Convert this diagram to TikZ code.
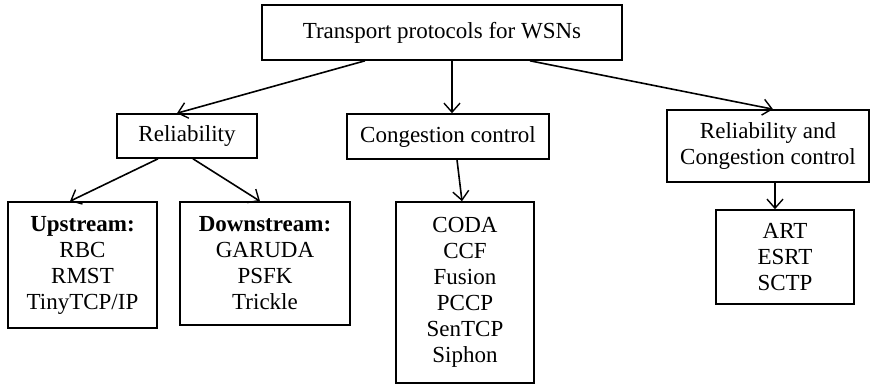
\documentclass[tikz,border=0pt]{standalone}
\usepackage{fontspec}
\setmainfont{Liberation Serif}
\usetikzlibrary{arrows.meta}
\begin{document}
\begin{tikzpicture}[x=1pt,y=-1pt,
  box/.style={draw,line width=1.6pt,inner sep=0pt,align=center,
    font=\fontsize{23}{26}\selectfont},
  conn/.style={line width=1.6pt,-{Straight Barb[length=9pt,width=16pt,line width=1.4pt]}}]
\useasboundingbox (0,0) rectangle (871,384);
\node[box,minimum width=360pt,minimum height=55pt] (top) at (442,32.5) {Transport protocols for WSNs};
\node[box,minimum width=140pt,minimum height=44pt] (rel) at (187,136) {Reliability};
\node[box,minimum width=202pt,minimum height=45pt] (cong) at (448,136.5) {Congestion control};
\node[box,minimum width=202pt,minimum height=72pt] (rc) at (768,146) {Reliability and\\Congestion control};
\node[box,minimum width=149pt,minimum height=126pt] (up) at (82.5,265) {\textbf{Upstream:}\\RBC\\RMST\\TinyTCP/IP};
\node[box,minimum width=170pt,minimum height=123pt] (down) at (265,263.5) {\textbf{Downstream:}\\GARUDA\\PSFK\\Trickle};
\node[box,minimum width=138pt,minimum height=181pt] (coda) at (465,292.5) {CODA\\CCF\\Fusion\\PCCP\\SenTCP\\Siphon};
\node[box,minimum width=138pt,minimum height=94pt] (art) at (785,257) {ART\\ESRT\\SCTP};
\draw[conn] ([xshift=-77pt]top.south) -- ([xshift=-10pt]rel.north);
\draw[conn] ([xshift=10pt]top.south) -- ([xshift=4pt]cong.north);
\draw[conn] ([xshift=88pt]top.south) -- ([xshift=5pt]rc.north);
\draw[conn] ([xshift=-29pt]rel.south) -- ([xshift=-12.5pt]up.north);
\draw[conn] ([xshift=6pt]rel.south) -- ([xshift=-5pt]down.north);
\draw[conn] ([xshift=9pt]cong.south) -- ([xshift=-3pt]coda.north);
\draw[conn] ([xshift=7pt]rc.south) -- ([xshift=-10pt]art.north);
\end{tikzpicture}
\end{document}
